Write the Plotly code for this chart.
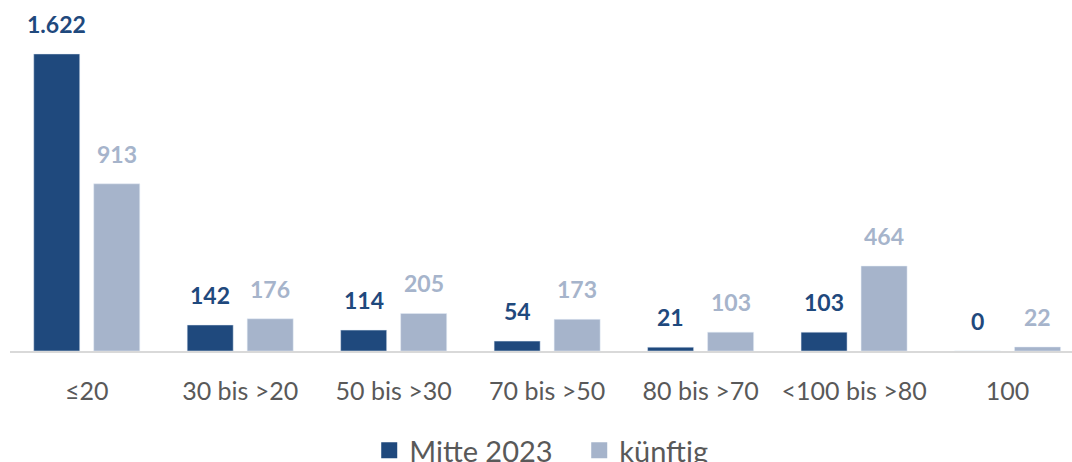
import plotly.graph_objects as go

categories = ["≤20", "30 bis >20", "50 bis >30", "70 bis >50", "80 bis >70", "<100 bis >80", "100"]
mitte_2023 = [1622, 142, 114, 54, 21, 103, 0]
kuenftig = [913, 176, 205, 173, 103, 464, 22]

DARK = "#1F497D"
LIGHT = "#A6B4CB"
FONT = "Lato"


def fmt(v):
    return f"{v:,}".replace(",", ".")


fig = go.Figure()
fig.add_trace(go.Bar(x=categories, y=mitte_2023, name="Mitte 2023",
                     marker=dict(color=DARK), showlegend=False))
fig.add_trace(go.Bar(x=categories, y=kuenftig, name="künftig",
                     marker=dict(color=LIGHT), showlegend=False))

# legend-only entries with larger square markers
fig.add_trace(go.Scatter(x=[categories[0]], y=[None], mode="markers", name="Mitte 2023",
                         marker=dict(symbol="square", size=18, color=DARK)))
fig.add_trace(go.Scatter(x=[categories[0]], y=[None], mode="markers", name="künftig",
                         marker=dict(symbol="square", size=18, color=LIGHT)))

# value labels (x given as category index so "100" is not read as a number)
for i, v in enumerate(mitte_2023):
    fig.add_annotation(x=i, y=v, text=f"<b>{fmt(v)}</b>", showarrow=False,
                       yanchor="bottom", xanchor="center", xshift=-30, yshift=14,
                       font=dict(family=FONT, size=23, color=DARK))
for i, v in enumerate(kuenftig):
    fig.add_annotation(x=i, y=v, text=f"<b>{fmt(v)}</b>", showarrow=False,
                       yanchor="bottom", xanchor="center", xshift=30, yshift=14,
                       font=dict(family=FONT, size=23, color=LIGHT))

fig.update_layout(
    width=1072, height=462,
    margin=dict(l=10, r=0, t=10, b=111, autoexpand=False),
    paper_bgcolor="white", plot_bgcolor="white",
    barmode="group", bargap=0.218, bargroupgap=0.233,
    font=dict(family=FONT, color="#595959"),
    legend=dict(orientation="h", x=0.536, xanchor="center", y=-0.217, yanchor="top",
                font=dict(family=FONT, size=29, color="#595959"),
                entrywidth=165,
                itemsizing="trace", traceorder="normal"),
    xaxis=dict(type="category", categoryorder="array", categoryarray=categories,
               range=[-0.5, 6.42],
               showline=True, linecolor="#D9D9D9", linewidth=1.5,
               ticks="outside", ticklen=17, tickcolor="rgba(0,0,0,0)",
               tickfont=dict(family=FONT, size=25, color="#595959"),
               tickangle=0, automargin=False,
               showgrid=False, zeroline=False),
    yaxis=dict(range=[0, 1862], visible=False, showgrid=False, zeroline=False),
)

fig.write_html("out.html", config={"displayModeBar": False},
               post_script="document.body.style.margin='0';")
